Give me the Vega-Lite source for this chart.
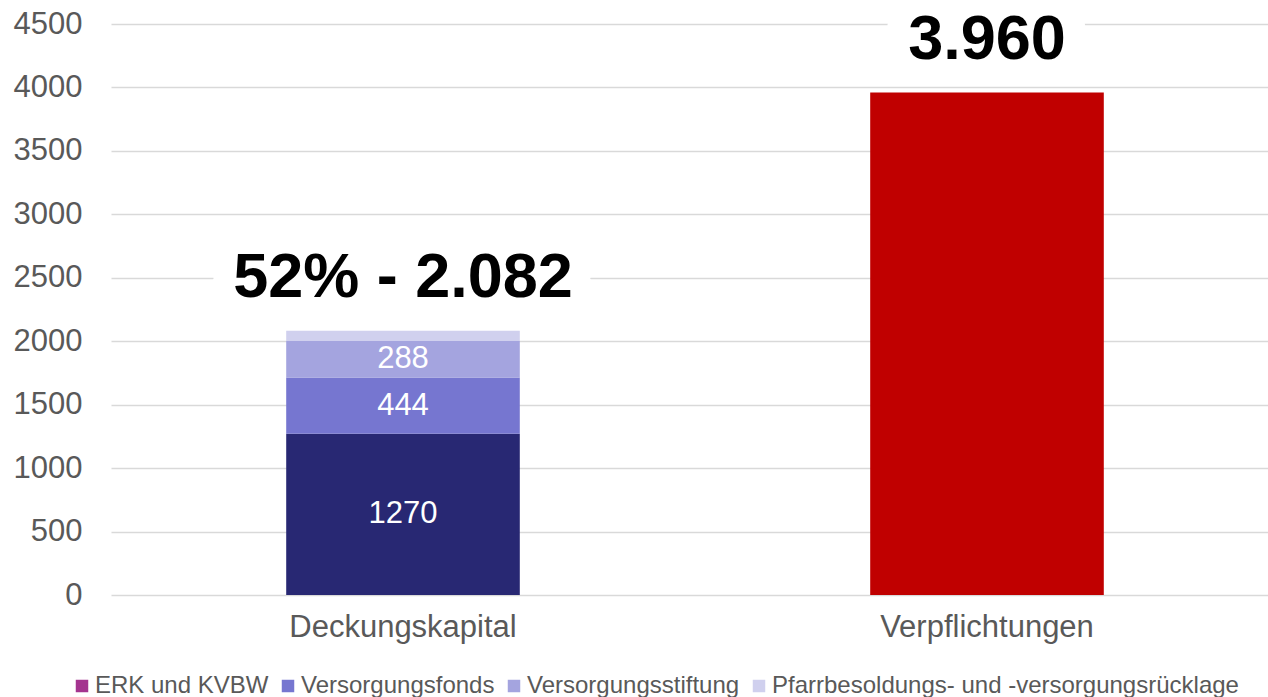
{
  "$schema": "https://vega.github.io/schema/vega-lite/v6.json",
  "width": 1168,
  "height": 571,
  "autosize": {"type": "none"},
  "padding": {"left": 111, "top": 24, "right": 0, "bottom": 102},
  "background": "white",
  "config": {"view": {"stroke": null}, "font": "Liberation Sans"},
  "datasets": {
    "segments": [
      {"category": "Deckungskapital", "series": "ERK und KVBW", "value": 1270, "rank": 1},
      {"category": "Deckungskapital", "series": "Versorgungsfonds", "value": 444, "rank": 2},
      {"category": "Deckungskapital", "series": "Versorgungsstiftung", "value": 288, "rank": 3},
      {"category": "Deckungskapital", "series": "Pfarrbesoldungs- und -versorgungsrücklage", "value": 80, "rank": 4},
      {"category": "Verpflichtungen", "series": "Verpflichtungen", "value": 3960, "rank": 1}
    ],
    "totals": [
      {"category": "Deckungskapital", "total": 2082, "label": "52% - 2.082"},
      {"category": "Verpflichtungen", "total": 3960, "label": "3.960"}
    ]
  },
  "encoding": {
    "x": {
      "field": "category",
      "type": "nominal",
      "sort": ["Deckungskapital", "Verpflichtungen"],
      "scale": {"paddingInner": 0.6, "paddingOuter": 0.3},
      "axis": {
        "title": null,
        "labelAngle": 0,
        "ticks": false,
        "domain": false,
        "labelFontSize": 31,
        "labelColor": "#595959",
        "labelPadding": 17,
        "labelLimit": 500
      }
    }
  },
  "layer": [
    {
      "data": {"name": "segments"},
      "mark": {"type": "bar"},
      "encoding": {
        "y": {
          "field": "value",
          "type": "quantitative",
          "stack": "zero",
          "scale": {"domain": [0, 4500], "nice": false},
          "axis": {
            "title": null,
            "values": [0, 500, 1000, 1500, 2000, 2500, 3000, 3500, 4000, 4500],
            "format": "d",
            "ticks": false,
            "domain": false,
            "labelFontSize": 31,
            "labelColor": "#595959",
            "labelPadding": 29,
            "gridColor": "#d9d9d9",
            "gridWidth": 1.5
          }
        },
        "order": {"field": "rank", "type": "quantitative", "sort": "ascending"},
        "fill": {
          "field": "series",
          "type": "nominal",
          "scale": {
            "domain": ["ERK und KVBW", "Versorgungsfonds", "Versorgungsstiftung", "Pfarrbesoldungs- und -versorgungsrücklage", "Verpflichtungen"],
            "range": ["#282873", "#7676d0", "#a4a4df", "#d0d0ee", "#c00000"]
          },
          "legend": null
        }
      }
    },
    {
      "data": {"name": "segments"},
      "transform": [{"filter": "datum.category == 'Deckungskapital'"}],
      "mark": {"type": "point", "filled": true, "opacity": 0},
      "encoding": {
        "y": {"field": "value", "type": "quantitative", "stack": null},
        "color": {
          "field": "series",
          "type": "nominal",
          "scale": {
            "domain": ["ERK und KVBW", "Versorgungsfonds", "Versorgungsstiftung", "Pfarrbesoldungs- und -versorgungsrücklage"],
            "range": ["#a4348f", "#7676d0", "#a4a4df", "#d0d0ee"]
          },
          "legend": {
            "title": null,
            "orient": "none",
            "direction": "horizontal",
            "legendX": -41,
            "legendY": 650,
            "padding": 0,
            "symbolType": "square",
            "symbolSize": 156,
            "symbolOpacity": 1,
            "symbolStrokeWidth": 0,
            "labelFontSize": 24,
            "labelColor": "#595959",
            "labelOffset": 1,
            "columnPadding": 7,
            "labelLimit": 800
          }
        }
      }
    },
    {
      "data": {"name": "segments"},
      "transform": [
        {"filter": "datum.category == 'Deckungskapital' && datum.value >= 100"}
      ],
      "mark": {"type": "text", "color": "white", "fontSize": 31, "baseline": "middle"},
      "encoding": {
        "y": {"field": "value", "type": "quantitative", "stack": "zero", "bandPosition": 0.5},
        "detail": {"field": "series", "type": "nominal"},
        "order": {"field": "rank", "type": "quantitative", "sort": "ascending"},
        "text": {"field": "value", "type": "quantitative", "format": "d"}
      }
    },
    {
      "data": {"name": "totals"},
      "mark": {"type": "text", "fontSize": 63, "fontWeight": "bold", "fill": "white", "stroke": "white", "strokeWidth": 46, "strokeJoin": "round", "baseline": "alphabetic", "dy": -34},
      "encoding": {
        "y": {"field": "total", "type": "quantitative"},
        "text": {"field": "label", "type": "nominal"}
      }
    },
    {
      "data": {"name": "totals"},
      "mark": {"type": "text", "fontSize": 63, "fontWeight": "bold", "color": "black", "baseline": "alphabetic", "dy": -34},
      "encoding": {
        "y": {"field": "total", "type": "quantitative"},
        "text": {"field": "label", "type": "nominal"}
      }
    }
  ]
}
